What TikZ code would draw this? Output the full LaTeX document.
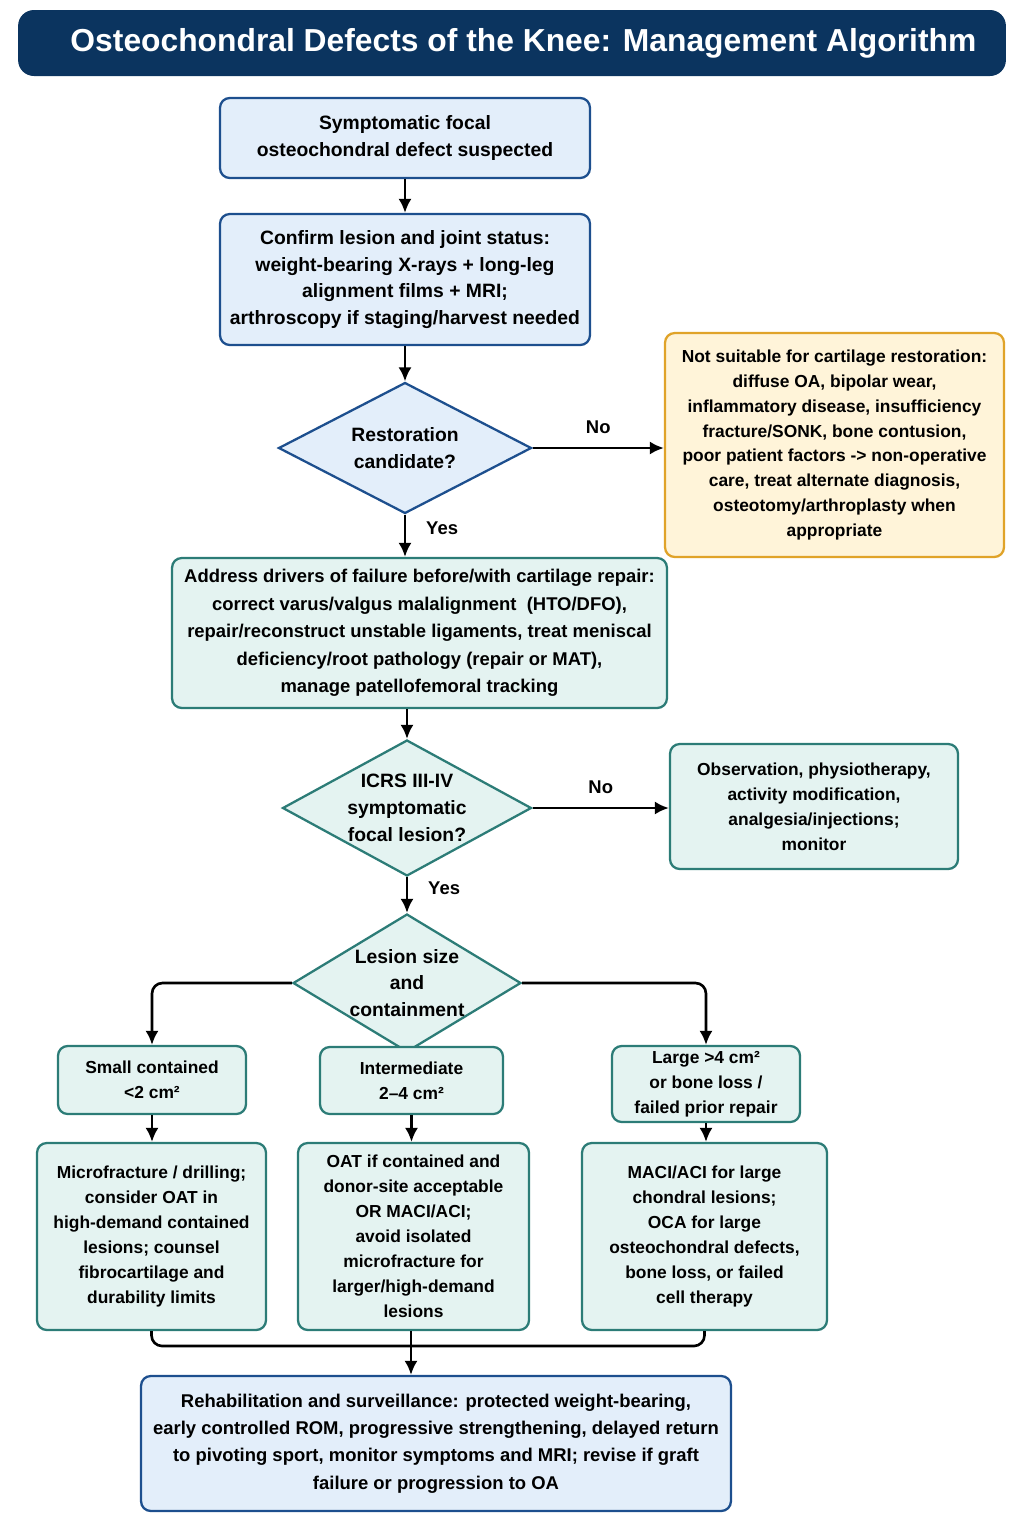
\documentclass[tikz,border=0pt]{standalone}
\usepackage{fontspec}
\setmainfont{Liberation Sans}
\usetikzlibrary{shapes.geometric,arrows.meta}
\definecolor{navy}{HTML}{0B345F}
\definecolor{bluefill}{HTML}{E3EEFA}
\definecolor{blueline}{HTML}{1D4F8E}
\definecolor{tealfill}{HTML}{E4F3F1}
\definecolor{tealline}{HTML}{2C7C77}
\definecolor{orfill}{HTML}{FFF4D9}
\definecolor{orline}{HTML}{E0A329}
\newcommand\fbig{\fontsize{11}{15.3}\selectfont}
\newcommand\fmid{\fontsize{10.5}{15.6}\selectfont}
\newcommand\fsml{\fontsize{9.9}{14.2}\selectfont}
\begin{document}
\begin{tikzpicture}[x=0.02cm,y=-0.02cm,
  blubox/.style={draw=blueline,fill=bluefill,line width=1.3pt,rounded corners=5.5pt,align=center,inner sep=0pt,font=\bfseries\fbig},
  tealbox/.style={blubox,draw=tealline,fill=tealfill},
  ask/.style={diamond,draw=blueline,fill=bluefill,line width=1.3pt,align=center,inner sep=0pt,font=\bfseries\fbig},
  arr/.style={line width=1.5pt,-{Latex[length=8pt,width=7.5pt]}},
  lbl/.style={font=\bfseries\fmid}]
\useasboundingbox(0,0)rectangle(1024,1536);
\node[fill=navy,rounded corners=9pt,minimum width=19.76cm,minimum height=1.32cm,text=white,font=\bfseries\fontsize{18.1}{22}\selectfont](title)at(512,43){\hspace*{13pt}Osteochondral Defects of the Knee: Management Algorithm};
% upper part
\node[blubox,minimum width=7.4cm,minimum height=1.6cm](start)at(405,138){Symptomatic focal\\osteochondral defect suspected};
\node[blubox,minimum width=7.4cm,minimum height=2.62cm](confirm)at(405,279.5){Confirm lesion and joint status:\\weight-bearing X-rays + long-leg\\alignment films + MRI;\\arthroscopy if staging/harvest needed};
\node[ask,aspect=1.93,minimum width=5.06cm,minimum height=2.62cm](cand)at(405,448){Restoration\\candidate?};
\node[blubox,draw=orline,fill=orfill,font=\bfseries\fsml,minimum width=6.78cm,minimum height=4.48cm](nosuit)at(834.5,445){Not suitable for cartilage restoration:\\diffuse OA, bipolar wear,\\inflammatory disease, insufficiency\\fracture/SONK, bone contusion,\\poor patient factors -> non-operative\\care, treat alternate diagnosis,\\osteotomy/arthroplasty when\\appropriate};
\node[tealbox,font=\bfseries\fmid,minimum width=9.9cm,minimum height=3cm](drivers)at(419.5,633){Address drivers of failure before/with cartilage repair:\\correct varus/valgus malalignment\ \ (HTO/DFO),\\repair/reconstruct unstable ligaments, treat meniscal\\deficiency/root pathology (repair or MAT),\\manage patellofemoral tracking};
\node[ask,draw=tealline,fill=tealfill,aspect=1.83,minimum width=4.98cm,minimum height=2.72cm](icrs)at(407,808){ICRS III-IV\\symptomatic\\focal lesion?};
\node[tealbox,font=\bfseries\fsml,minimum width=5.76cm,minimum height=2.5cm](observe)at(814,806.5){Observation, physiotherapy,\\activity modification,\\analgesia/injections;\\monitor};
\node[ask,draw=tealline,fill=tealfill,aspect=1.65,minimum width=4.56cm,minimum height=2.76cm](size)at(407,983){Lesion size\\and\\containment};
% size groups
\node[tealbox,font=\bfseries\fsml,minimum width=3.76cm,minimum height=1.36cm](small)at(152,1080){Small contained\\<2 cm²};
\node[tealbox,font=\bfseries\fsml,minimum width=3.66cm,minimum height=1.34cm](mid)at(411.5,1080.5){Intermediate\\2–4 cm²};
\node[tealbox,font=\bfseries\fsml,minimum width=3.76cm,minimum height=1.52cm](large)at(706,1084){Large >4 cm²\\or bone loss /\\failed prior repair};
\node[tealbox,font=\bfseries\fsml,minimum width=4.58cm,minimum height=3.74cm](trsmall)at(151.5,1236.5){Microfracture / drilling;\\consider OAT in\\high-demand contained\\lesions; counsel\\fibrocartilage and\\durability limits};
\node[tealbox,font=\bfseries\fsml,minimum width=4.62cm,minimum height=3.74cm](trmid)at(413.5,1236.5){OAT if contained and\\donor-site acceptable\\OR MACI/ACI;\\avoid isolated\\microfracture for\\larger/high-demand\\lesions};
\node[tealbox,font=\bfseries\fsml,minimum width=4.9cm,minimum height=3.74cm](trlarge)at(704.5,1236.5){MACI/ACI for large\\chondral lesions;\\OCA for large\\osteochondral defects,\\bone loss, or failed\\cell therapy};
\node[blubox,font=\bfseries\fmid,minimum width=11.8cm,minimum height=2.7cm](rehab)at(436,1443.5){Rehabilitation and surveillance: protected weight-bearing,\\early controlled ROM, progressive strengthening, delayed return\\to pivoting sport, monitor symptoms and MRI; revise if graft\\failure or progression to OA};
\coordinate(mrg)at(411,1346);
% connectors
\draw[arr](start)--(confirm);
\draw[arr](confirm.south)--(cand.north);
\draw[arr](cand.east)--node[lbl,above=4pt]{No}(nosuit.west|-cand.east);
\draw[arr](cand.south)--node[lbl,right=8pt,yshift=4pt]{Yes}(cand.south|-drivers.north);
\draw[arr](drivers.south-|icrs.north)--(icrs.north);
\draw[arr](icrs.east)--node[lbl,above=4pt]{No}(observe.west|-icrs.east);
\draw[arr](icrs.south)--node[lbl,right=8pt,yshift=4pt]{Yes}(size.north);
\draw[arr,rounded corners=6pt](size.west)-|(small.north);
\draw[arr,rounded corners=6pt](size.east)-|(large.north);
\draw[arr](small.south)--(small.south|-trsmall.north);
\draw[arr](mid.south)--(mid.south|-trmid.north);
\draw[arr](large.south)--(large.south|-trlarge.north);
\draw[line width=1.5pt,rounded corners=6pt](trsmall.south)|-(mrg)-|(trlarge.south);
\draw[arr](trmid.south-|mrg)--(mrg|-rehab.north);
\end{tikzpicture}
\end{document}
